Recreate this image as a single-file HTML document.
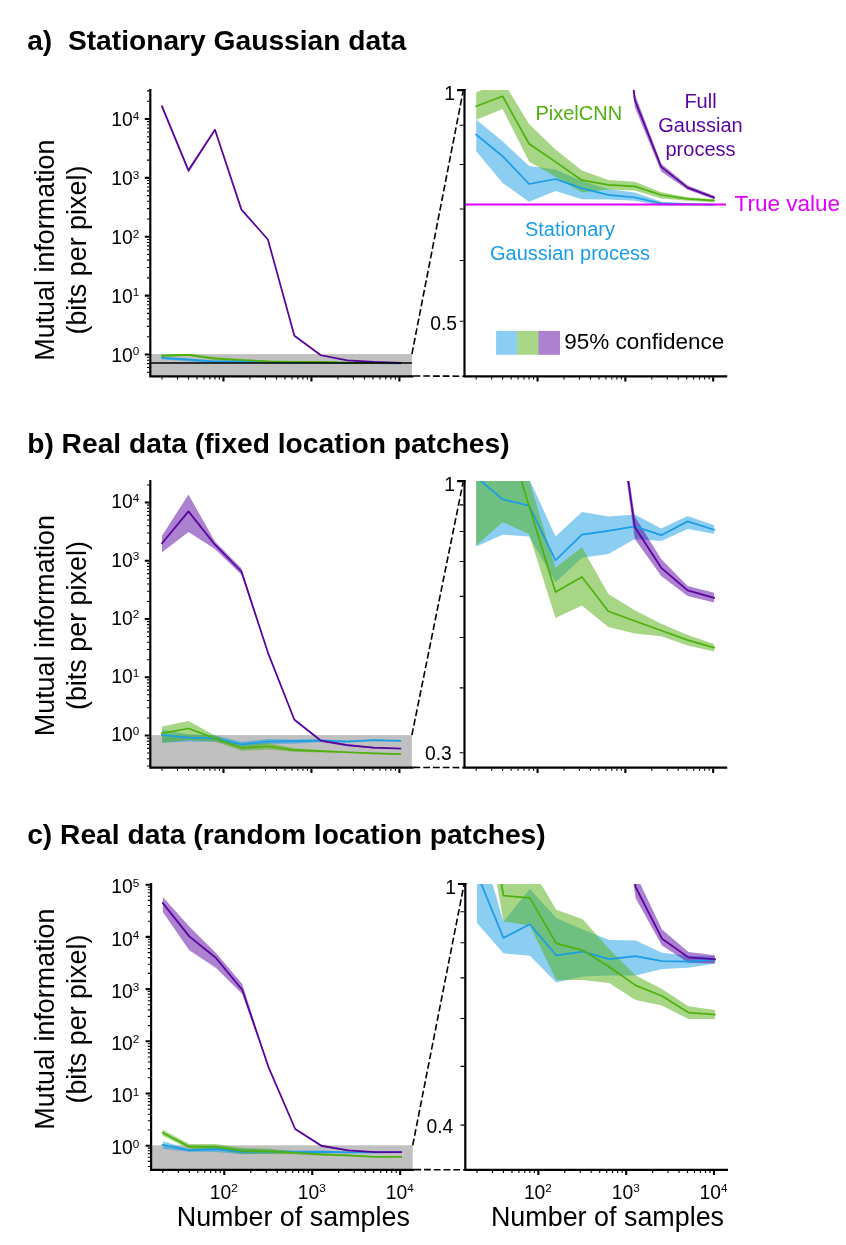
<!DOCTYPE html>
<html><head><meta charset="utf-8"><title>Figure</title>
<style>
html,body{margin:0;padding:0;background:#fff;}
body{width:846px;height:1245px;overflow:hidden;font-family:"Liberation Sans", sans-serif;}
svg{display:block;will-change:transform;transform:translateZ(0);}
</style></head><body>
<svg width="846" height="1245" viewBox="0 0 846 1245" font-family='"Liberation Sans", sans-serif' fill="#000">
<rect width="846" height="1245" fill="#fff"/>
<g transform="translate(0,0)">
<clipPath id="clipR0"><rect x="464.5" y="90.1" width="282.7" height="286.2"/></clipPath>
<clipPath id="clipL0"><rect x="150.3" y="85.1" width="281.9" height="291.2"/></clipPath>
<rect x="150.3" y="354.1" width="261.6" height="22.2" fill="#c0c0c0"/>
<polygon points="162,356.78 188.48,358.43 214.96,360.33 241.44,360.58 267.91,361.47 294.39,362.08 320.87,362.36 347.35,363.06 373.83,363.18 400.31,363.23 400.31,363.37 373.83,363.37 347.35,363.35 320.87,362.99 294.39,362.89 267.91,362.86 241.44,362.23 214.96,363.06 188.48,361.62 162,359.18" fill="#1a9de6" fill-opacity="0.5" clip-path="url(#clipL0)"/>
<polygon points="476.2,119.8 502.63,141.3 529.06,166.1 555.49,169.4 581.92,181 608.35,189 634.78,192.6 661.21,201.7 687.64,203.3 714.07,204 714.07,205.8 687.64,205.8 661.21,205.5 634.78,200.8 608.35,199.6 581.92,199.2 555.49,190.9 529.06,201.7 502.63,183 476.2,151.2" fill="#1a9de6" fill-opacity="0.5" clip-path="url(#clipR0)"/>
<polygon points="162,354.68 188.48,353.76 214.96,357.09 241.44,359.05 267.91,360.67 294.39,361.39 320.87,361.53 347.35,362.33 373.83,362.71 400.31,362.86 400.31,363.09 373.83,362.99 347.35,362.8 320.87,362.2 294.39,362.11 267.91,362.36 241.44,361.15 214.96,359.97 188.48,355.95 162,356.78" fill="#4fb00e" fill-opacity="0.5" clip-path="url(#clipL0)"/>
<polygon points="476.2,92.4 502.63,80.5 529.06,123.9 555.49,149.5 581.92,170.6 608.35,180 634.78,181.8 661.21,192.2 687.64,197.2 714.07,199.2 714.07,202.2 687.64,200.8 661.21,198.4 634.78,190.6 608.35,189.4 581.92,192.6 555.49,176.8 529.06,161.5 502.63,109 476.2,119.8" fill="#4fb00e" fill-opacity="0.5" clip-path="url(#clipR0)"/>
<polygon points="162,104.6 188.48,169 214.96,128.9 241.44,209 267.91,239 294.39,335.4 320.87,354.8 347.35,360.15 373.83,361.82 400.31,362.6 400.31,362.86 373.83,362.14 347.35,360.74 320.87,355.8 294.39,336.3 267.91,240.2 241.44,210.6 214.96,131 188.48,173 162,108.2" fill="#5a04a0" fill-opacity="0.5" clip-path="url(#clipL0)"/>
<polygon points="476.2,-3169.47 502.63,-2329.47 529.06,-2852.51 555.49,-1807.73 581.92,-1416.42 608.35,-159.03 634.78,94 661.21,163.8 687.64,185.6 714.07,195.8 714.07,199.2 687.64,189.8 661.21,171.5 634.78,107 608.35,-147.29 581.92,-1400.77 555.49,-1786.86 529.06,-2825.12 502.63,-2277.29 476.2,-3122.51" fill="#5a04a0" fill-opacity="0.5" clip-path="url(#clipR0)"/>
<polyline points="162,357.91 188.48,359.57 214.96,361.7 241.44,361.32 267.91,362.04 294.39,362.53 320.87,362.73 347.35,363.18 373.83,363.24 400.31,363.27" fill="none" stroke="#1a9de6" stroke-width="1.75" stroke-linejoin="round" stroke-linecap="square" clip-path="url(#clipL0)"/>
<polyline points="476.2,134.6 502.63,156.2 529.06,184 555.49,179 581.92,188.4 608.35,194.8 634.78,197.5 661.21,203.3 687.64,204.1 714.07,204.5" fill="none" stroke="#1a9de6" stroke-width="1.75" stroke-linejoin="round" stroke-linecap="square" clip-path="url(#clipR0)"/>
<polyline points="162,355.73 188.48,354.98 214.96,358.61 241.44,360 267.91,361.41 294.39,361.76 320.87,361.88 347.35,362.54 373.83,362.84 400.31,362.96" fill="none" stroke="#4fb00e" stroke-width="1.75" stroke-linejoin="round" stroke-linecap="square" clip-path="url(#clipL0)"/>
<polyline points="476.2,106.2 502.63,96.3 529.06,143.7 555.49,161.9 581.92,180.2 608.35,184.8 634.78,186.3 661.21,195 687.64,198.9 714.07,200.5" fill="none" stroke="#4fb00e" stroke-width="1.75" stroke-linejoin="round" stroke-linecap="square" clip-path="url(#clipR0)"/>
<polyline points="162,106.4 188.48,170.3 214.96,129.7 241.44,209.6 267.91,239.5 294.39,335.8 320.87,355.25 347.35,360.39 373.83,361.98 400.31,362.73" fill="none" stroke="#5a04a0" stroke-width="1.75" stroke-linejoin="round" stroke-linecap="square" clip-path="url(#clipL0)"/>
<polyline points="476.2,-3145.99 502.63,-2312.51 529.06,-2842.07 555.49,-1799.9 581.92,-1409.9 608.35,-153.81 634.78,99.9 661.21,166.9 687.64,187.6 714.07,197.5" fill="none" stroke="#5a04a0" stroke-width="1.75" stroke-linejoin="round" stroke-linecap="square" clip-path="url(#clipR0)"/>
<line x1="150.3" y1="363" x2="411.9" y2="363" stroke="#000" stroke-width="1.4"/>
<line x1="464.5" y1="204.6" x2="726" y2="204.6" stroke="#e000fa" stroke-width="2"/>
<line x1="411.9" y1="354.1" x2="463.1" y2="91.3" stroke="#000" stroke-width="1.6" stroke-dasharray="6.8,2.95"/>
<line x1="413.5" y1="376" x2="464.5" y2="376.2" stroke="#000" stroke-width="1.6" stroke-dasharray="6.8,2.95"/>
<path d="M150.3 89.1 V376.3 H413.6 M464.5 89.1 V376.3 H727.2" fill="none" stroke="#000" stroke-width="2.2" stroke-linecap="butt" stroke-linejoin="miter"/>
<path d="M149.3 354.5 h-4.5 M149.3 295.62 h-4.5 M149.3 236.74 h-4.5 M149.3 177.86 h-4.5 M149.3 118.98 h-4.5 M465.6 90.1 h-8.5 M223.48 377.3 v4.2 M311.44 377.3 v4.2 M399.4 377.3 v4.2 M537.57 377.3 v4.2 M625.37 377.3 v4.2 M713.17 377.3 v4.2" fill="none" stroke="#000" stroke-width="2.1"/>
<path d="M149.3 372.22 h-2.3 M149.3 367.56 h-2.3 M149.3 363.62 h-2.3 M149.3 360.21 h-2.3 M149.3 357.19 h-2.3 M149.3 336.78 h-2.3 M149.3 326.41 h-2.3 M149.3 319.05 h-2.3 M149.3 313.34 h-2.3 M149.3 308.68 h-2.3 M149.3 304.74 h-2.3 M149.3 301.33 h-2.3 M149.3 298.31 h-2.3 M149.3 277.9 h-2.3 M149.3 267.53 h-2.3 M149.3 260.17 h-2.3 M149.3 254.46 h-2.3 M149.3 249.8 h-2.3 M149.3 245.86 h-2.3 M149.3 242.45 h-2.3 M149.3 239.43 h-2.3 M149.3 219.02 h-2.3 M149.3 208.65 h-2.3 M149.3 201.29 h-2.3 M149.3 195.58 h-2.3 M149.3 190.92 h-2.3 M149.3 186.98 h-2.3 M149.3 183.57 h-2.3 M149.3 180.55 h-2.3 M149.3 160.14 h-2.3 M149.3 149.77 h-2.3 M149.3 142.41 h-2.3 M149.3 136.7 h-2.3 M149.3 132.04 h-2.3 M149.3 128.1 h-2.3 M149.3 124.69 h-2.3 M149.3 121.67 h-2.3 M149.3 101.26 h-2.3 M149.3 90.89 h-2.3 M463.5 321.29 h-3.8 M463.5 260.48 h-3.8 M463.5 209.06 h-3.8 M463.5 164.53 h-3.8 M463.5 125.24 h-3.8 M162 377.3 v2.1 M177.49 377.3 v2.1 M188.48 377.3 v2.1 M197 377.3 v2.1 M203.97 377.3 v2.1 M209.86 377.3 v2.1 M214.96 377.3 v2.1 M219.46 377.3 v2.1 M249.96 377.3 v2.1 M265.45 377.3 v2.1 M276.44 377.3 v2.1 M284.96 377.3 v2.1 M291.93 377.3 v2.1 M297.82 377.3 v2.1 M302.92 377.3 v2.1 M307.42 377.3 v2.1 M337.92 377.3 v2.1 M353.41 377.3 v2.1 M364.4 377.3 v2.1 M372.92 377.3 v2.1 M379.89 377.3 v2.1 M385.78 377.3 v2.1 M390.88 377.3 v2.1 M395.38 377.3 v2.1 M476.2 377.3 v2.1 M491.66 377.3 v2.1 M502.63 377.3 v2.1 M511.14 377.3 v2.1 M518.09 377.3 v2.1 M523.97 377.3 v2.1 M529.06 377.3 v2.1 M533.55 377.3 v2.1 M564 377.3 v2.1 M579.46 377.3 v2.1 M590.43 377.3 v2.1 M598.94 377.3 v2.1 M605.89 377.3 v2.1 M611.77 377.3 v2.1 M616.86 377.3 v2.1 M621.35 377.3 v2.1 M651.8 377.3 v2.1 M667.26 377.3 v2.1 M678.23 377.3 v2.1 M686.74 377.3 v2.1 M693.69 377.3 v2.1 M699.57 377.3 v2.1 M704.66 377.3 v2.1 M709.15 377.3 v2.1" fill="none" stroke="#000" stroke-width="1.1"/>
<text x="139.3" y="361.9" text-anchor="end" font-size="19.3">10<tspan font-size="11.7" dy="-6.6">0</tspan></text>
<text x="139.3" y="303.02" text-anchor="end" font-size="19.3">10<tspan font-size="11.7" dy="-6.6">1</tspan></text>
<text x="139.3" y="244.14" text-anchor="end" font-size="19.3">10<tspan font-size="11.7" dy="-6.6">2</tspan></text>
<text x="139.3" y="185.26" text-anchor="end" font-size="19.3">10<tspan font-size="11.7" dy="-6.6">3</tspan></text>
<text x="139.3" y="126.38" text-anchor="end" font-size="19.3">10<tspan font-size="11.7" dy="-6.6">4</tspan></text>
<text x="455" y="99.6" text-anchor="end" font-size="19.3">1</text>
<text x="457" y="329.8" text-anchor="end" font-size="19.3">0.5</text>
<text transform="translate(53.8,250.1) rotate(-90)" text-anchor="middle" font-size="26.9">Mutual information</text>
<text transform="translate(86,250.1) rotate(-90)" text-anchor="middle" font-size="26.9">(bits per pixel)</text>
</g>
<text x="27.2" y="50.3" font-size="28.2" font-weight="bold" xml:space="preserve" style="white-space:pre">a)  Stationary Gaussian data</text>
<g transform="translate(0,0)">
<clipPath id="clipR1"><rect x="464.5" y="481.1" width="282.7" height="286.6"/></clipPath>
<clipPath id="clipL1"><rect x="150.3" y="476.1" width="281.9" height="291.6"/></clipPath>
<rect x="150.3" y="735.1" width="261.6" height="32.6" fill="#c0c0c0"/>
<polygon points="162,729.74 188.48,734.22 214.96,735.21 241.44,741.7 267.91,738.98 294.39,739.46 320.87,739.26 347.35,740.8 373.83,739.41 400.31,740.44 400.31,741.4 373.83,740.88 347.35,742.22 320.87,741.98 294.39,743.67 267.91,744.09 241.44,746.85 214.96,741.7 188.48,741.51 162,742.83" fill="#1a9de6" fill-opacity="0.5" clip-path="url(#clipL1)"/>
<polygon points="476.2,429.7 502.63,469.7 529.06,478.5 555.49,536.4 581.92,512.1 608.35,516.4 634.78,514.6 661.21,528.4 687.64,516 714.07,525.2 714.07,533.7 687.64,529.1 661.21,541 634.78,538.9 608.35,554 581.92,557.7 555.49,582.3 529.06,536.4 502.63,534.7 476.2,546.5" fill="#1a9de6" fill-opacity="0.5" clip-path="url(#clipR1)"/>
<polygon points="162,726.5 188.48,721 214.96,735.38 241.44,745.22 267.91,742.91 294.39,748.17 320.87,749.98 347.35,751.5 373.83,752.77 400.31,753.75 400.31,754.6 373.83,753.94 347.35,752.9 320.87,752.58 294.39,751.85 267.91,749.44 241.44,750.84 214.96,741.42 188.48,740.11 162,742.72" fill="#4fb00e" fill-opacity="0.5" clip-path="url(#clipL1)"/>
<polygon points="476.2,400.83 502.63,351.78 529.06,480 555.49,567.8 581.92,547.2 608.35,594.1 634.78,610.2 661.21,623.8 687.64,635.1 714.07,643.9 714.07,651.4 687.64,645.6 661.21,636.3 634.78,633.4 608.35,626.9 581.92,605.4 555.49,617.9 529.06,533.9 502.63,522.2 476.2,545.5" fill="#4fb00e" fill-opacity="0.5" clip-path="url(#clipR1)"/>
<polygon points="162,535.7 188.48,494.6 214.96,541.4 241.44,568.2 267.91,651.6 294.39,719 320.87,739.46 347.35,744.23 373.83,747.27 400.31,748.02 400.31,749.1 373.83,748.39 347.35,746.14 320.87,741.98 294.39,720.4 267.91,653.6 241.44,574.8 214.96,548.9 188.48,531.9 162,552.2" fill="#5a04a0" fill-opacity="0.5" clip-path="url(#clipL1)"/>
<polygon points="476.2,-1300.81 502.63,-1667.36 529.06,-1249.97 555.49,-1010.96 581.92,-267.16 608.35,333.95 634.78,516.4 661.21,559 687.64,586.1 714.07,592.8 714.07,602.4 687.64,596.1 661.21,576 634.78,538.9 608.35,346.43 581.92,-249.32 555.49,-952.1 529.06,-1183.08 502.63,-1334.7 476.2,-1153.65" fill="#5a04a0" fill-opacity="0.5" clip-path="url(#clipR1)"/>
<polyline points="162,735.04 188.48,737.54 214.96,738.25 241.44,744.38 267.91,741.51 294.39,741.08 320.87,740.58 347.35,741.57 373.83,740.02 400.31,740.95" fill="none" stroke="#1a9de6" stroke-width="1.75" stroke-linejoin="round" stroke-linecap="square" clip-path="url(#clipL1)"/>
<polyline points="476.2,477 502.63,499.3 529.06,505.6 555.49,560.3 581.92,534.7 608.35,530.9 634.78,526.4 661.21,535.2 687.64,521.4 714.07,529.7" fill="none" stroke="#1a9de6" stroke-width="1.75" stroke-linejoin="round" stroke-linecap="square" clip-path="url(#clipR1)"/>
<polyline points="162,733.3 188.48,728.5 214.96,738.28 241.44,747.95 267.91,746.25 294.39,750.09 320.87,751.19 347.35,752.25 373.83,753.33 400.31,754.17" fill="none" stroke="#4fb00e" stroke-width="1.75" stroke-linejoin="round" stroke-linecap="square" clip-path="url(#clipL1)"/>
<polyline points="476.2,461.48 502.63,418.67 529.06,505.9 555.49,592.1 581.92,577 608.35,611.2 634.78,621 661.21,630.5 687.64,640.1 714.07,647.6" fill="none" stroke="#4fb00e" stroke-width="1.75" stroke-linejoin="round" stroke-linecap="square" clip-path="url(#clipR1)"/>
<polyline points="162,543.2 188.48,511.4 214.96,544.7 241.44,571.5 267.91,652.6 294.39,719.7 320.87,740.65 347.35,745.22 373.83,747.74 400.31,748.59" fill="none" stroke="#5a04a0" stroke-width="1.75" stroke-linejoin="round" stroke-linecap="square" clip-path="url(#clipL1)"/>
<polyline points="476.2,-1233.92 502.63,-1517.53 529.06,-1220.54 555.49,-981.53 581.92,-258.24 608.35,340.19 634.78,527 661.21,567.8 687.64,590.3 714.07,597.8" fill="none" stroke="#5a04a0" stroke-width="1.75" stroke-linejoin="round" stroke-linecap="square" clip-path="url(#clipR1)"/>
<line x1="411.9" y1="735.1" x2="463.1" y2="482.3" stroke="#000" stroke-width="1.6" stroke-dasharray="6.8,2.95"/>
<line x1="413.5" y1="767.4" x2="464.5" y2="767.6" stroke="#000" stroke-width="1.6" stroke-dasharray="6.8,2.95"/>
<path d="M150.3 480.1 V767.7 H413.6 M464.5 480.1 V767.7 H727.2" fill="none" stroke="#000" stroke-width="2.2" stroke-linecap="butt" stroke-linejoin="miter"/>
<path d="M149.3 735.5 h-4.5 M149.3 677.25 h-4.5 M149.3 619 h-4.5 M149.3 560.75 h-4.5 M149.3 502.5 h-4.5 M465.6 481.1 h-8.5 M223.48 768.7 v4.2 M311.44 768.7 v4.2 M399.4 768.7 v4.2 M537.57 768.7 v4.2 M625.37 768.7 v4.2 M713.17 768.7 v4.2" fill="none" stroke="#000" stroke-width="2.1"/>
<path d="M149.3 765.96 h-2.3 M149.3 758.68 h-2.3 M149.3 753.03 h-2.3 M149.3 748.42 h-2.3 M149.3 744.52 h-2.3 M149.3 741.15 h-2.3 M149.3 738.17 h-2.3 M149.3 717.97 h-2.3 M149.3 707.71 h-2.3 M149.3 700.43 h-2.3 M149.3 694.78 h-2.3 M149.3 690.17 h-2.3 M149.3 686.27 h-2.3 M149.3 682.9 h-2.3 M149.3 679.92 h-2.3 M149.3 659.72 h-2.3 M149.3 649.46 h-2.3 M149.3 642.18 h-2.3 M149.3 636.53 h-2.3 M149.3 631.92 h-2.3 M149.3 628.02 h-2.3 M149.3 624.65 h-2.3 M149.3 621.67 h-2.3 M149.3 601.47 h-2.3 M149.3 591.21 h-2.3 M149.3 583.93 h-2.3 M149.3 578.28 h-2.3 M149.3 573.67 h-2.3 M149.3 569.77 h-2.3 M149.3 566.4 h-2.3 M149.3 563.42 h-2.3 M149.3 543.22 h-2.3 M149.3 532.96 h-2.3 M149.3 525.68 h-2.3 M149.3 520.03 h-2.3 M149.3 515.42 h-2.3 M149.3 511.52 h-2.3 M149.3 508.15 h-2.3 M149.3 505.17 h-2.3 M149.3 484.97 h-2.3 M463.5 752.74 h-3.8 M463.5 687.83 h-3.8 M463.5 637.49 h-3.8 M463.5 596.35 h-3.8 M463.5 561.57 h-3.8 M463.5 531.44 h-3.8 M463.5 504.87 h-3.8 M162 768.7 v2.1 M177.49 768.7 v2.1 M188.48 768.7 v2.1 M197 768.7 v2.1 M203.97 768.7 v2.1 M209.86 768.7 v2.1 M214.96 768.7 v2.1 M219.46 768.7 v2.1 M249.96 768.7 v2.1 M265.45 768.7 v2.1 M276.44 768.7 v2.1 M284.96 768.7 v2.1 M291.93 768.7 v2.1 M297.82 768.7 v2.1 M302.92 768.7 v2.1 M307.42 768.7 v2.1 M337.92 768.7 v2.1 M353.41 768.7 v2.1 M364.4 768.7 v2.1 M372.92 768.7 v2.1 M379.89 768.7 v2.1 M385.78 768.7 v2.1 M390.88 768.7 v2.1 M395.38 768.7 v2.1 M476.2 768.7 v2.1 M491.66 768.7 v2.1 M502.63 768.7 v2.1 M511.14 768.7 v2.1 M518.09 768.7 v2.1 M523.97 768.7 v2.1 M529.06 768.7 v2.1 M533.55 768.7 v2.1 M564 768.7 v2.1 M579.46 768.7 v2.1 M590.43 768.7 v2.1 M598.94 768.7 v2.1 M605.89 768.7 v2.1 M611.77 768.7 v2.1 M616.86 768.7 v2.1 M621.35 768.7 v2.1 M651.8 768.7 v2.1 M667.26 768.7 v2.1 M678.23 768.7 v2.1 M686.74 768.7 v2.1 M693.69 768.7 v2.1 M699.57 768.7 v2.1 M704.66 768.7 v2.1 M709.15 768.7 v2.1" fill="none" stroke="#000" stroke-width="1.1"/>
<text x="139.3" y="741.4" text-anchor="end" font-size="19.3">10<tspan font-size="11.7" dy="-6.6">0</tspan></text>
<text x="139.3" y="683.15" text-anchor="end" font-size="19.3">10<tspan font-size="11.7" dy="-6.6">1</tspan></text>
<text x="139.3" y="624.9" text-anchor="end" font-size="19.3">10<tspan font-size="11.7" dy="-6.6">2</tspan></text>
<text x="139.3" y="566.65" text-anchor="end" font-size="19.3">10<tspan font-size="11.7" dy="-6.6">3</tspan></text>
<text x="139.3" y="508.4" text-anchor="end" font-size="19.3">10<tspan font-size="11.7" dy="-6.6">4</tspan></text>
<text x="455" y="491.4" text-anchor="end" font-size="19.3">1</text>
<text x="451.8" y="759.6" text-anchor="end" font-size="19.3">0.3</text>
<text transform="translate(53.8,625.6) rotate(-90)" text-anchor="middle" font-size="26.9">Mutual information</text>
<text transform="translate(86,625.6) rotate(-90)" text-anchor="middle" font-size="26.9">(bits per pixel)</text>
</g>
<text x="27.2" y="453" font-size="28.2" font-weight="bold" xml:space="preserve" style="white-space:pre">b) Real data (fixed location patches)</text>
<g transform="translate(0.8,0)">
<clipPath id="clipR2"><rect x="464.5" y="884" width="282.7" height="285.9"/></clipPath>
<clipPath id="clipL2"><rect x="150.3" y="879" width="281.9" height="290.9"/></clipPath>
<rect x="150.3" y="1145.3" width="261.6" height="24.6" fill="#c0c0c0"/>
<polygon points="162,1141.16 188.48,1148.92 214.96,1146.14 241.44,1148.64 267.91,1149.63 294.39,1150.52 320.87,1150.56 347.35,1151.63 373.83,1151.88 400.31,1151.95 400.31,1152.56 373.83,1152.91 347.35,1153.01 320.87,1153.59 294.39,1153.57 267.91,1153.67 241.44,1154.19 214.96,1151.88 188.48,1151.67 162,1149.06" fill="#1a9de6" fill-opacity="0.5" clip-path="url(#clipL2)"/>
<polygon points="476.2,831.3 502.63,921.4 529.06,889.1 555.49,918.1 581.92,929.6 608.35,940 634.78,940.4 661.21,952.8 687.64,955.8 714.07,956.5 714.07,963.6 687.64,967.7 661.21,968.9 634.78,975.6 608.35,975.4 581.92,976.5 555.49,982.6 529.06,955.8 502.63,953.3 476.2,923" fill="#1a9de6" fill-opacity="0.5" clip-path="url(#clipR2)"/>
<polygon points="162,1129.7 188.48,1143.89 214.96,1144.11 241.44,1147.92 267.91,1148.73 294.39,1151.3 320.87,1153.59 347.35,1154.74 373.83,1156.23 400.31,1156.56 400.31,1157.34 373.83,1157.34 347.35,1156.17 320.87,1155.69 294.39,1154.22 267.91,1153.98 241.44,1153.98 214.96,1149.27 188.48,1148.92 162,1135.8" fill="#4fb00e" fill-opacity="0.5" clip-path="url(#clipL2)"/>
<polygon points="476.2,698.25 502.63,863 529.06,865.5 555.49,909.8 581.92,919.2 608.35,949 634.78,975.6 661.21,989 687.64,1006.3 714.07,1010.1 714.07,1019.1 687.64,1019.1 661.21,1005.5 634.78,1000 608.35,982.9 581.92,980.1 555.49,980.1 529.06,925.5 502.63,921.4 476.2,769.07" fill="#4fb00e" fill-opacity="0.5" clip-path="url(#clipR2)"/>
<polygon points="162,897.1 188.48,926.4 214.96,952.7 241.44,984 267.91,1066.6 294.39,1128.2 320.87,1144.84 347.35,1149.63 373.83,1151.56 400.31,1151.84 400.31,1152.56 373.83,1152.48 347.35,1150.99 320.87,1146.92 294.39,1129.8 267.91,1068.6 241.44,994.1 214.96,967.7 188.48,950.2 162,912.1" fill="#5a04a0" fill-opacity="0.5" clip-path="url(#clipL2)"/>
<polygon points="476.2,-2002.05 502.63,-1661.9 529.06,-1356.57 555.49,-993.21 581.92,-34.29 608.35,680.84 634.78,874 661.21,929.6 687.64,952 714.07,955.3 714.07,963.6 687.64,962.7 661.21,945.4 634.78,898.2 608.35,699.41 581.92,-11.07 555.49,-875.95 529.06,-1182.44 502.63,-1385.6 476.2,-1827.91" fill="#5a04a0" fill-opacity="0.5" clip-path="url(#clipR2)"/>
<polyline points="162,1144.8 188.48,1150.34 214.96,1149.17 241.44,1151.84 267.91,1151.53 294.39,1152.17 320.87,1151.91 347.35,1152.34 373.83,1152.38 400.31,1152.19" fill="none" stroke="#1a9de6" stroke-width="1.75" stroke-linejoin="round" stroke-linecap="square" clip-path="url(#clipL2)"/>
<polyline points="476.2,873.6 502.63,937.9 529.06,924.3 555.49,955.3 581.92,951.7 608.35,959.1 634.78,956.1 661.21,961.1 687.64,961.6 714.07,959.4" fill="none" stroke="#1a9de6" stroke-width="1.75" stroke-linejoin="round" stroke-linecap="square" clip-path="url(#clipR2)"/>
<polyline points="162,1132.8 188.48,1146.71 214.96,1146.9 241.44,1150.82 267.91,1151.41 294.39,1152.82 320.87,1154.43 347.35,1155.35 373.83,1156.78 400.31,1156.95" fill="none" stroke="#4fb00e" stroke-width="1.75" stroke-linejoin="round" stroke-linecap="square" clip-path="url(#clipL2)"/>
<polyline points="476.2,734.24 502.63,895.7 529.06,897.9 555.49,943.4 581.92,950.3 608.35,966.7 634.78,985.4 661.21,996 687.64,1012.6 714.07,1014.6" fill="none" stroke="#4fb00e" stroke-width="1.75" stroke-linejoin="round" stroke-linecap="square" clip-path="url(#clipR2)"/>
<polyline points="162,903.1 188.48,936.4 214.96,957.7 241.44,989.8 267.91,1067.6 294.39,1129 320.87,1145.96 347.35,1150.41 373.83,1152.02 400.31,1152.19" fill="none" stroke="#5a04a0" stroke-width="1.75" stroke-linejoin="round" stroke-linecap="square" clip-path="url(#clipL2)"/>
<polyline points="476.2,-1932.39 502.63,-1545.8 529.06,-1298.53 555.49,-925.87 581.92,-22.68 608.35,690.13 634.78,887 661.21,938.7 687.64,957.4 714.07,959.4" fill="none" stroke="#5a04a0" stroke-width="1.75" stroke-linejoin="round" stroke-linecap="square" clip-path="url(#clipR2)"/>
<line x1="411.9" y1="1145.3" x2="463.1" y2="885.2" stroke="#000" stroke-width="1.6" stroke-dasharray="6.8,2.95"/>
<line x1="413.5" y1="1169.6" x2="464.5" y2="1169.8" stroke="#000" stroke-width="1.6" stroke-dasharray="6.8,2.95"/>
<path d="M150.3 883 V1169.9 H413.6 M464.5 883 V1169.9 H727.2" fill="none" stroke="#000" stroke-width="2.2" stroke-linecap="butt" stroke-linejoin="miter"/>
<path d="M149.3 1145.7 h-4.5 M149.3 1093.5 h-4.5 M149.3 1041.3 h-4.5 M149.3 989.1 h-4.5 M149.3 936.9 h-4.5 M149.3 884.7 h-4.5 M465.6 884 h-8.5 M223.48 1170.9 v4.2 M311.44 1170.9 v4.2 M399.4 1170.9 v4.2 M537.57 1170.9 v4.2 M625.37 1170.9 v4.2 M713.17 1170.9 v4.2" fill="none" stroke="#000" stroke-width="2.1"/>
<path d="M149.3 1166.47 h-2.3 M149.3 1161.41 h-2.3 M149.3 1157.28 h-2.3 M149.3 1153.79 h-2.3 M149.3 1150.76 h-2.3 M149.3 1148.09 h-2.3 M149.3 1129.99 h-2.3 M149.3 1120.79 h-2.3 M149.3 1114.27 h-2.3 M149.3 1109.21 h-2.3 M149.3 1105.08 h-2.3 M149.3 1101.59 h-2.3 M149.3 1098.56 h-2.3 M149.3 1095.89 h-2.3 M149.3 1077.79 h-2.3 M149.3 1068.59 h-2.3 M149.3 1062.07 h-2.3 M149.3 1057.01 h-2.3 M149.3 1052.88 h-2.3 M149.3 1049.39 h-2.3 M149.3 1046.36 h-2.3 M149.3 1043.69 h-2.3 M149.3 1025.59 h-2.3 M149.3 1016.39 h-2.3 M149.3 1009.87 h-2.3 M149.3 1004.81 h-2.3 M149.3 1000.68 h-2.3 M149.3 997.19 h-2.3 M149.3 994.16 h-2.3 M149.3 991.49 h-2.3 M149.3 973.39 h-2.3 M149.3 964.19 h-2.3 M149.3 957.67 h-2.3 M149.3 952.61 h-2.3 M149.3 948.48 h-2.3 M149.3 944.99 h-2.3 M149.3 941.96 h-2.3 M149.3 939.29 h-2.3 M149.3 921.19 h-2.3 M149.3 911.99 h-2.3 M149.3 905.47 h-2.3 M149.3 900.41 h-2.3 M149.3 896.28 h-2.3 M149.3 892.79 h-2.3 M149.3 889.76 h-2.3 M149.3 887.09 h-2.3 M463.5 1125.15 h-3.8 M463.5 1066.42 h-3.8 M463.5 1018.44 h-3.8 M463.5 977.87 h-3.8 M463.5 942.73 h-3.8 M463.5 911.73 h-3.8 M162 1170.9 v2.1 M177.49 1170.9 v2.1 M188.48 1170.9 v2.1 M197 1170.9 v2.1 M203.97 1170.9 v2.1 M209.86 1170.9 v2.1 M214.96 1170.9 v2.1 M219.46 1170.9 v2.1 M249.96 1170.9 v2.1 M265.45 1170.9 v2.1 M276.44 1170.9 v2.1 M284.96 1170.9 v2.1 M291.93 1170.9 v2.1 M297.82 1170.9 v2.1 M302.92 1170.9 v2.1 M307.42 1170.9 v2.1 M337.92 1170.9 v2.1 M353.41 1170.9 v2.1 M364.4 1170.9 v2.1 M372.92 1170.9 v2.1 M379.89 1170.9 v2.1 M385.78 1170.9 v2.1 M390.88 1170.9 v2.1 M395.38 1170.9 v2.1 M476.2 1170.9 v2.1 M491.66 1170.9 v2.1 M502.63 1170.9 v2.1 M511.14 1170.9 v2.1 M518.09 1170.9 v2.1 M523.97 1170.9 v2.1 M529.06 1170.9 v2.1 M533.55 1170.9 v2.1 M564 1170.9 v2.1 M579.46 1170.9 v2.1 M590.43 1170.9 v2.1 M598.94 1170.9 v2.1 M605.89 1170.9 v2.1 M611.77 1170.9 v2.1 M616.86 1170.9 v2.1 M621.35 1170.9 v2.1 M651.8 1170.9 v2.1 M667.26 1170.9 v2.1 M678.23 1170.9 v2.1 M686.74 1170.9 v2.1 M693.69 1170.9 v2.1 M699.57 1170.9 v2.1 M704.66 1170.9 v2.1 M709.15 1170.9 v2.1" fill="none" stroke="#000" stroke-width="1.1"/>
<text x="138.5" y="1154.4" text-anchor="end" font-size="19.3">10<tspan font-size="11.7" dy="-6.6">0</tspan></text>
<text x="138.5" y="1102.2" text-anchor="end" font-size="19.3">10<tspan font-size="11.7" dy="-6.6">1</tspan></text>
<text x="138.5" y="1050" text-anchor="end" font-size="19.3">10<tspan font-size="11.7" dy="-6.6">2</tspan></text>
<text x="138.5" y="997.8" text-anchor="end" font-size="19.3">10<tspan font-size="11.7" dy="-6.6">3</tspan></text>
<text x="138.5" y="945.6" text-anchor="end" font-size="19.3">10<tspan font-size="11.7" dy="-6.6">4</tspan></text>
<text x="138.5" y="893.4" text-anchor="end" font-size="19.3">10<tspan font-size="11.7" dy="-6.6">5</tspan></text>
<text x="455.2" y="893.5" text-anchor="end" font-size="19.3">1</text>
<text x="452.5" y="1133.3" text-anchor="end" font-size="19.3">0.4</text>
<text transform="translate(53,1019.1) rotate(-90)" text-anchor="middle" font-size="26.9">Mutual information</text>
<text transform="translate(85.2,1019.1) rotate(-90)" text-anchor="middle" font-size="26.9">(bits per pixel)</text>
</g>
<text x="27.2" y="843.5" font-size="28.2" font-weight="bold" xml:space="preserve" style="white-space:pre">c) Real data (random location patches)</text>
<text x="578.8" y="120.2" text-anchor="middle" font-size="20" fill="#4fb00e">PixelCNN</text>
<text text-anchor="middle" font-size="20" fill="#5a04a0"><tspan x="700.5" y="108.2">Full</tspan><tspan x="700.5" y="131.8">Gaussian</tspan><tspan x="700.5" y="155.8">process</tspan></text>
<text text-anchor="middle" font-size="20" fill="#1a9de6"><tspan x="570" y="235.9">Stationary</tspan><tspan x="570" y="259.8">Gaussian process</tspan></text>
<text x="734.6" y="210.6" font-size="22.5" fill="#e000fa">True value</text>
<rect x="496.1" y="330.9" width="21.6" height="23.9" fill="#8bcef3"/>
<rect x="517.2" y="330.9" width="21.7" height="23.9" fill="#a8d885"/>
<rect x="538.4" y="330.9" width="21.6" height="23.9" fill="#ad80d0"/>
<text x="564.2" y="349.3" font-size="22.5">95% confidence</text>
<text x="223.78" y="1198.6" text-anchor="middle" font-size="19.3">10<tspan font-size="11.7" dy="-6.6">2</tspan></text>
<text x="311.74" y="1198.6" text-anchor="middle" font-size="19.3">10<tspan font-size="11.7" dy="-6.6">3</tspan></text>
<text x="399.7" y="1198.6" text-anchor="middle" font-size="19.3">10<tspan font-size="11.7" dy="-6.6">4</tspan></text>
<text x="537.87" y="1198.6" text-anchor="middle" font-size="19.3">10<tspan font-size="11.7" dy="-6.6">2</tspan></text>
<text x="625.67" y="1198.6" text-anchor="middle" font-size="19.3">10<tspan font-size="11.7" dy="-6.6">3</tspan></text>
<text x="713.47" y="1198.6" text-anchor="middle" font-size="19.3">10<tspan font-size="11.7" dy="-6.6">4</tspan></text>
<text x="293.3" y="1225.6" text-anchor="middle" font-size="26.9">Number of samples</text>
<text x="607.5" y="1225.6" text-anchor="middle" font-size="26.9">Number of samples</text>
</svg>
</body></html>
